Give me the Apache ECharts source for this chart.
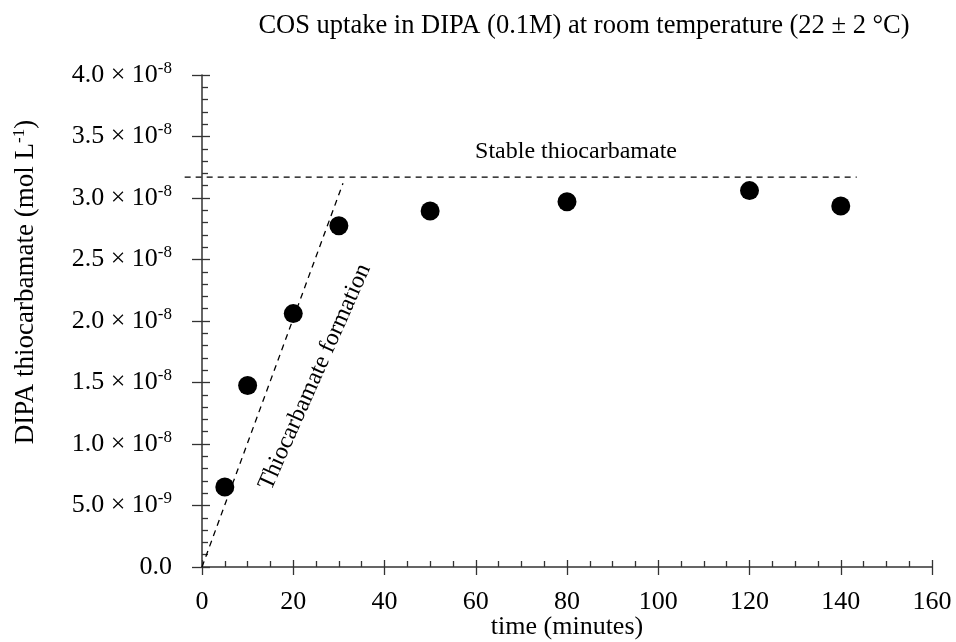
<!DOCTYPE html>
<html>
<head>
<meta charset="utf-8">
<script src="https://cdn.jsdelivr.net/npm/echarts@6/dist/echarts.min.js"></script>
<style>
html,body{margin:0;padding:0;background:#fff;}
#c{width:956px;height:642px;}
</style>
</head>
<body>
<div id="c"></div>
<script>
// ---- data ----
var timeMin = [5, 10, 20, 30, 50, 80, 120, 140];
var thiocarbamate = [6.5e-9, 1.475e-8, 2.06e-8, 2.775e-8, 2.895e-8, 2.97e-8, 3.06e-8, 2.935e-8];
var plateauX = [-3.8, 143.5];
var plateauY = [3.17e-8, 3.17e-8];
var formationX = [0, 30.9];
var formationY = [0, 3.12e-8];
var xTickLabels = ['0', '20', '40', '60', '80', '100', '120', '140', '160'];
var yTickMant = ['0.0', '5.0 × 10', '1.0 × 10', '1.5 × 10', '2.0 × 10', '2.5 × 10', '3.0 × 10', '3.5 × 10', '4.0 × 10'];
var yTickExp = ['', '-9', '-8', '-8', '-8', '-8', '-8', '-8', '-8'];
var titleText = 'COS uptake in DIPA (0.1M) at room temperature (22 ± 2 °C)';
var xName = 'time (minutes)';
var yNameMain = 'DIPA thiocarbamate (mol L';
var yNameSup = '-1';
var yNameEnd = ')';
var plateauLabel = 'Stable thiocarbamate';
var formationLabel = 'Thiocarbamate formation';

var FONT = '"Liberation Serif", "Times New Roman", serif';
var AX = '#333';
var FS = 26;

function pairs(xs, ys) { return xs.map(function (x, i) { return [x, ys[i]]; }); }

var chart = echarts.init(document.getElementById('c'), null, { renderer: 'canvas' });

function supRich(fs) {
  return {
    m: { fontFamily: FONT, fontSize: fs, color: '#000', fill: '#000', lineHeight: 30 },
    s: { fontFamily: FONT, fontSize: Math.round(fs * 0.64), color: '#000', fill: '#000', verticalAlign: 'top', lineHeight: 30, padding: [0, 0, 14, 0] }
  };
}

var option = {
  backgroundColor: '#fff',
  animation: false,
  title: {
    text: titleText, left: 579, top: 8, textAlign: 'center',
    textStyle: { fontFamily: FONT, fontSize: 26.5, fontWeight: 'normal', color: '#000' }
  },
  grid: { left: 202, right: 24, top: 75, bottom: 75, outerBoundsMode: 'none', containLabel: false },
  xAxis: [{
    type: 'value', min: 0, max: 160, interval: 20,
    axisLine: { show: true, onZero: false, lineStyle: { color: AX, width: 1.5 } },
    axisTick: { show: true, inside: false, length: 8, lineStyle: { color: AX, width: 1.3 } },
    axisLabel: { margin: 22, fontFamily: FONT, fontSize: FS, color: '#000',
      formatter: function (v, i) { return xTickLabels[i]; } },
    splitLine: { show: false },
    name: xName, nameLocation: 'middle', nameGap: 47, nameMoveOverlap: false,
    nameTextStyle: { fontFamily: FONT, fontSize: FS, color: '#000' }
  }, {
    type: 'value', min: 0, max: 160, interval: 20, position: 'bottom',
    axisLine: { show: false, onZero: false },
    axisTick: { show: true, inside: true, length: 7, lineStyle: { color: AX, width: 1.3 } },
    minorTick: { show: true, splitNumber: 4, length: 6, lineStyle: { color: AX, width: 1.3 } },
    axisLabel: { show: false }, splitLine: { show: false }
  }],
  yAxis: [{
    type: 'value', min: 0, max: 4e-8, interval: 5e-9,
    axisLine: { show: true, onZero: false, lineStyle: { color: AX, width: 1.5 } },
    axisTick: { show: true, inside: false, length: 10, lineStyle: { color: AX, width: 1.3 } },
    axisLabel: {
      margin: 30, fontFamily: FONT, fontSize: FS, color: '#000',
      formatter: function (v, i) {
        return yTickExp[i] ? '{m|' + yTickMant[i] + '}{s|' + yTickExp[i] + '}' : '{m|' + yTickMant[i] + '}';
      },
      rich: supRich(FS)
    },
    splitLine: { show: false }
  }, {
    type: 'value', min: 0, max: 4e-8, interval: 5e-9, position: 'left',
    axisLine: { show: false, onZero: false },
    axisTick: { show: true, inside: true, length: 8, lineStyle: { color: AX, width: 1.3 } },
    minorTick: { show: true, splitNumber: 5, length: 6, lineStyle: { color: AX, width: 1.3 } },
    axisLabel: { show: false }, splitLine: { show: false }
  }],
  series: [
    {
      type: 'line', data: pairs(formationX, formationY), clip: false, symbol: 'none', silent: true,
      lineStyle: { color: '#000', width: 1.3, type: [6, 5] }
    },
    {
      type: 'scatter', data: pairs(timeMin, thiocarbamate), symbol: 'circle', symbolSize: 19,
      itemStyle: { color: '#000', opacity: 1 }
    }
  ]
};
chart.setOption(option);

// plateau line (extends slightly left of the y axis) via the chart's own scale
var p0 = chart.convertToPixel({ xAxisIndex: 0, yAxisIndex: 0 }, [plateauX[0], plateauY[0]]);
var p1 = chart.convertToPixel({ xAxisIndex: 0, yAxisIndex: 0 }, [plateauX[1], plateauY[1]]);
chart.setOption({
  graphic: [
    {
      type: 'line', silent: true,
      shape: { x1: p0[0], y1: p0[1], x2: p1[0], y2: p1[1] },
      style: { stroke: '#000', lineWidth: 1.3, lineDash: [6, 5] }
    },
    {
      type: 'text', x: 26, y: 282, rotation: Math.PI / 2,
      style: {
        text: '{m|' + yNameMain + '}{s|' + yNameSup + '}{m|' + yNameEnd + '}',
        rich: supRich(27), align: 'center', verticalAlign: 'middle'
      }
    },
    {
      type: 'text', x: 576, y: 152,
      style: { text: plateauLabel, fontFamily: FONT, fontSize: 24, fill: '#000', align: 'center', verticalAlign: 'middle' }
    },
    {
      type: 'text', x: 315, y: 377, rotation: 66 * Math.PI / 180,
      style: { text: formationLabel, fontFamily: FONT, fontSize: 24, fill: '#000', align: 'center', verticalAlign: 'middle' }
    }
  ]
});
</script>
</body>
</html>
